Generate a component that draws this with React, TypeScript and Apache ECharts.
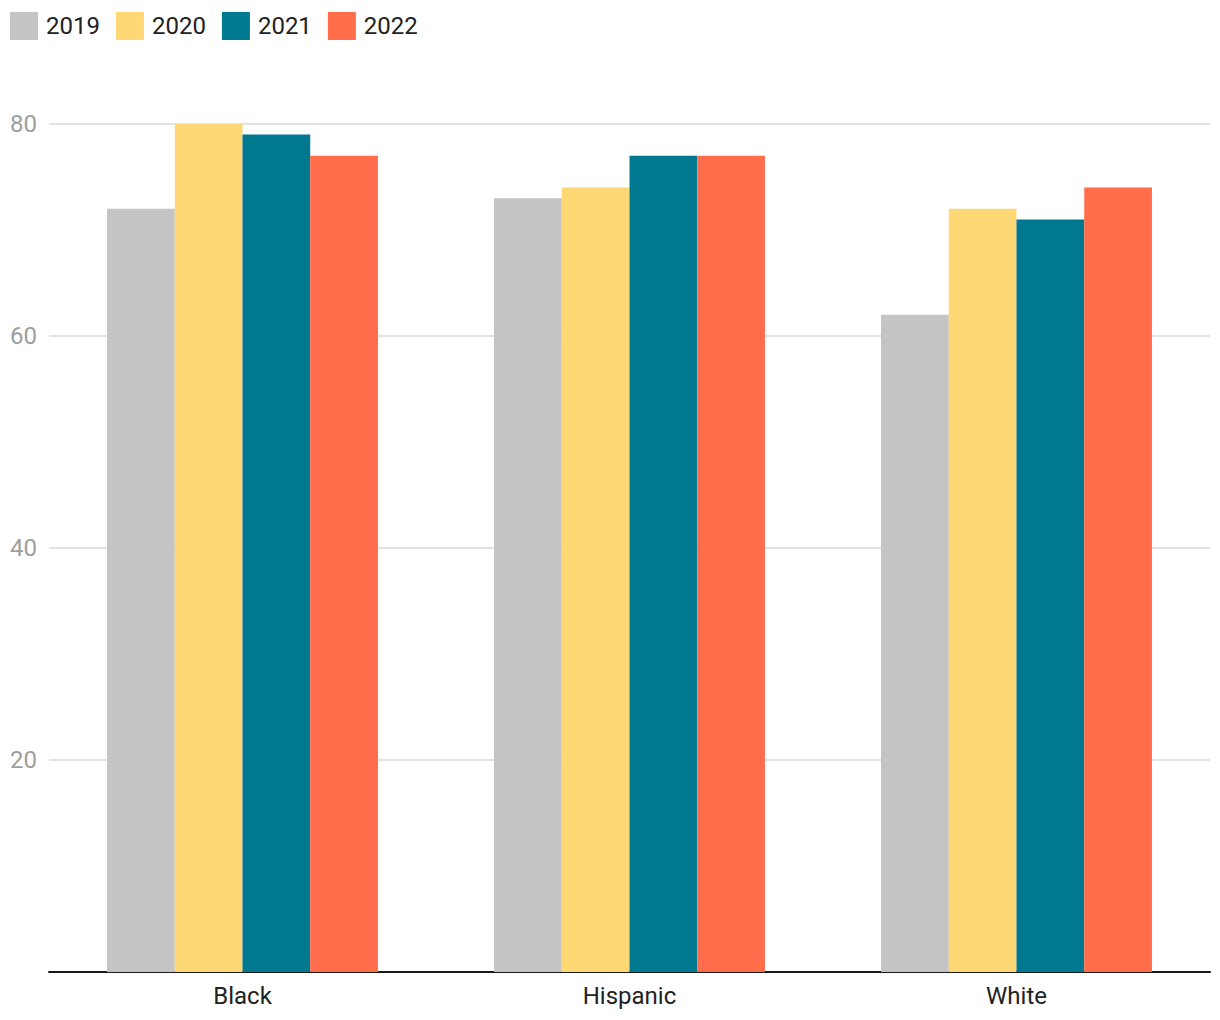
import React, { useEffect, useRef } from "react";
import * as echarts from "echarts";

const categories = ["Black", "Hispanic", "White"];
const years = ["2019", "2020", "2021", "2022"];
const values2019 = [72, 73, 62];
const values2020 = [80, 74, 72];
const values2021 = [79, 77, 71];
const values2022 = [77, 77, 74];
const colors = ["#c4c4c4", "#fdd874", "#00788f", "#ff6d4a"];

export default function App() {
  const ref = useRef<HTMLDivElement>(null);
  useEffect(() => {
    document.body.style.margin = "0";
    const chart = echarts.init(ref.current!, null, { renderer: "svg" });
    const seriesValues = [values2019, values2020, values2021, values2022];
    chart.setOption({
      animation: false,
      textStyle: { fontFamily: "Roboto" },
      color: colors,
      legend: {
        left: 5,
        top: 7,
        itemWidth: 28,
        itemHeight: 28,
        itemGap: 16,
        icon: "rect",
        textStyle: { fontSize: 24, color: "#222", fontFamily: "Roboto", padding: [0, 0, 0, 3] },
        data: years,
      },
      grid: { left: 49, right: 10, top: 124, bottom: 48, containLabel: false },
      xAxis: {
        type: "category",
        data: categories,
        axisLine: { lineStyle: { color: "#1a1a1a", width: 2 } },
        axisTick: { show: false },
        axisLabel: { fontSize: 24, color: "#222", margin: 12, fontFamily: "Roboto" },
      },
      yAxis: {
        type: "value",
        min: 0,
        max: 80,
        interval: 20,
        axisLine: { show: false },
        axisTick: { show: false },
        splitLine: { lineStyle: { color: "#e3e3e3", width: 2 } },
        axisLabel: {
          showMinLabel: false,
          fontSize: 24,
          color: "#9e9e9e",
          align: "left",
          margin: 39,
          fontFamily: "Roboto",
        },
      },
      series: years.map((y, i) => ({
        name: y,
        type: "bar",
        data: seriesValues[i],
        barGap: 0,
        barCategoryGap: "30%",
      })),
    });
    return () => chart.dispose();
  }, []);
  return <div ref={ref} style={{ width: 1220, height: 1020 }} />;
}
